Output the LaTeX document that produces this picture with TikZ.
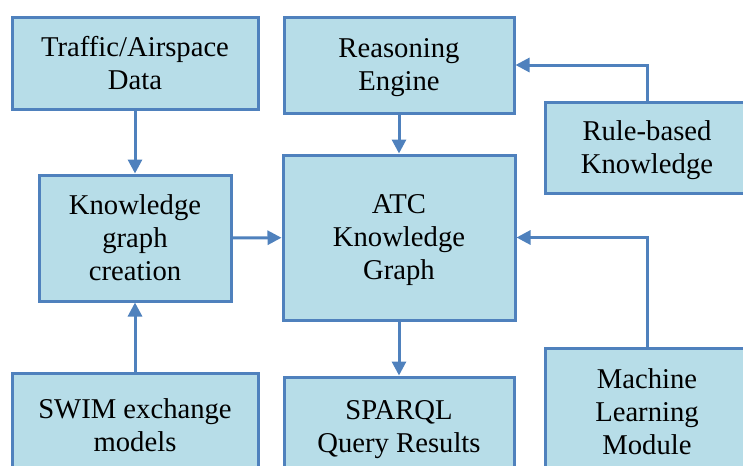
\documentclass[tikz,border=0pt]{standalone}
\usepackage{fontspec}
\setmainfont{Liberation Serif}
\usepackage{xcolor}
\usepackage{tikz}
\usetikzlibrary{shapes, arrows.meta}
\definecolor{boxfill}{HTML}{B7DDE8}
\definecolor{boxline}{HTML}{4F81BD}
\tikzstyle{block} = [rectangle, draw=boxline, fill=boxfill, line width=2.25pt, align=center, inner sep=0pt, text depth=0pt, font=\fontsize{21.5}{24.75}\selectfont]
\tikzstyle{connector} = [draw=boxline, line width=2.25pt, -{Triangle[length=10.5pt, width=10.5pt]}]

\begin{document}
\begin{tikzpicture}[x=0.75pt, y=-0.75pt]
        \useasboundingbox (0,0) rectangle (743,465);
        \clip (0,0) rectangle (743,465);
        \node [block, minimum width=184.5pt, minimum height=69pt] at (135,63) (traffic) {Traffic/Airspace\\Data};
        \node [block, minimum width=172.5pt, minimum height=72pt] at (399,65) (reasoning) {Reasoning\\Engine};
        \node [block, minimum width=153pt, minimum height=68.25pt] at (647,147.5) (rules) {Rule-based\\Knowledge};
        \node [block, minimum width=144pt, minimum height=94.5pt] at (135,238) (kgcreate) {Knowledge\\graph\\creation};
        \node [block, minimum width=174pt, minimum height=123.75pt] at (399,237.5) (atckg) {ATC\\Knowledge\\Graph};
        \node [block, minimum width=184.5pt, minimum height=78pt] at (135,425) (swim) {SWIM exchange\\models};
        \node [block, minimum width=172.5pt, minimum height=75pt] at (399,427) (sparql) {SPARQL\\Query Results};
        \node [block, minimum width=153pt, minimum height=96pt] at (647,412) (mlmod) {Machine\\Learning\\Module};

        \path [connector] (traffic) -- (kgcreate);
        \path [connector] (swim) -- (kgcreate);
        \path [connector] (kgcreate) -- (atckg);
        \path [connector] (reasoning) -- (atckg);
        \path [connector] (atckg) -- (sparql);
        \path [connector] (rules.north) |- (reasoning.east);
        \path [connector] (mlmod.north) |- (atckg.east);
    \end{tikzpicture}
\end{document}
